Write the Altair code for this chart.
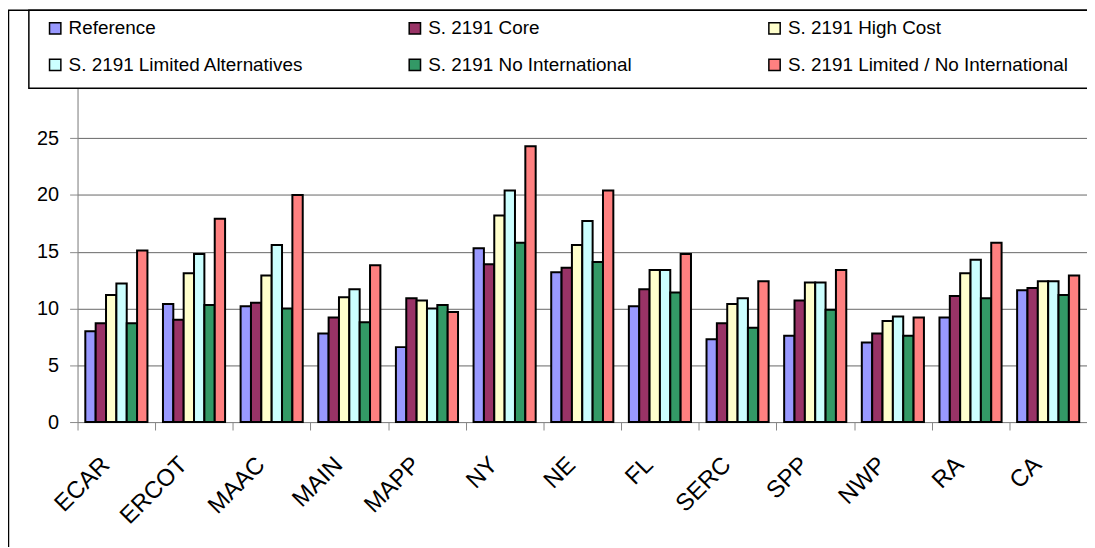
import altair as alt
import pandas as pd

regions = ["ECAR", "ERCOT", "MAAC", "MAIN", "MAPP", "NY", "NE", "FL", "SERC", "SPP", "NWP", "RA", "CA"]
series_names = ["Reference", "S. 2191 Core", "S. 2191 High Cost",
                "S. 2191 Limited Alternatives", "S. 2191 No International",
                "S. 2191 Limited / No International"]

reference = [8.0, 10.4, 10.2, 7.8, 6.6, 15.3, 13.2, 10.2, 7.3, 7.6, 7.0, 9.2, 11.6]
core      = [8.7, 9.0, 10.5, 9.2, 10.9, 13.9, 13.6, 11.7, 8.7, 10.7, 7.8, 11.1, 11.8]
high_cost = [11.2, 13.1, 12.9, 11.0, 10.7, 18.2, 15.6, 13.4, 10.4, 12.3, 8.9, 13.1, 12.4]
lim_alt   = [12.2, 14.8, 15.6, 11.7, 10.0, 20.4, 17.7, 13.4, 10.9, 12.3, 9.3, 14.3, 12.4]
no_intl   = [8.7, 10.3, 10.0, 8.8, 10.3, 15.8, 14.1, 11.4, 8.3, 9.9, 7.6, 10.9, 11.2]
lim_no    = [15.1, 17.9, 20.0, 13.8, 9.7, 24.3, 20.4, 14.8, 12.4, 13.4, 9.2, 15.8, 12.9]

y_ticks = [0, 5, 10, 15, 20, 25]
colors = ["#9999FF", "#993366", "#FFFFCC", "#CCFFFF", "#339966", "#FF8080"]

rows = []
for name, vals in zip(series_names, [reference, core, high_cost, lim_alt, no_intl, lim_no]):
    for r, v in zip(regions, vals):
        rows.append({"region": r, "series": name, "value": v})
df = pd.DataFrame(rows)

W, H = 1016, 336
step = W / len(regions)
FONT = "Liberation Sans"

bars = alt.Chart(df).mark_bar(stroke="black", strokeWidth=2).encode(
    x=alt.X("region:N", sort=regions, title=None,
            scale=alt.Scale(paddingInner=0.2, paddingOuter=0.1),
            axis=alt.Axis(labelAngle=-45, labelAlign="right", labelBaseline="middle",
                          labelFontSize=24, labelPadding=31, labelOffset=step / 2 - 11,
                          tickSize=8, tickOffset=-step / 2, grid=False)),
    xOffset=alt.XOffset("series:N", sort=series_names,
                        scale=alt.Scale(paddingInner=0, paddingOuter=0)),
    y=alt.Y("value:Q", title=None,
            scale=alt.Scale(domain=[0, 29.4], nice=False, zero=True),
            axis=alt.Axis(values=y_ticks, grid=True, gridColor="#666666", gridWidth=1,
                          labelFontSize=20, labelPadding=11, tickSize=8)),
    color=alt.Color("series:N", sort=series_names,
                    scale=alt.Scale(domain=series_names, range=colors),
                    legend=alt.Legend(orient="none", legendX=-32, legendY=-70, columns=3,
                                      direction="horizontal",
                                      title=None, symbolType="square", symbolSize=130,
                                      symbolStrokeColor="black", symbolStrokeWidth=1.5,
                                      labelFontSize=19, labelFont=FONT, labelColor="black",
                                      labelOffset=4, rowPadding=17, columnPadding=56,
                                      gridAlign="all", padding=0, labelLimit=400)),
)

deco = pd.DataFrame({"k": [0]})
legend_box = alt.Chart(deco).mark_rect(fill="white", stroke="black", strokeWidth=1.5).encode(
    x=alt.value(-49), x2=alt.value(1100), y=alt.value(-78.5), y2=alt.value(0))
outer_border = alt.Chart(deco).mark_rect(fillOpacity=0, stroke="black", strokeWidth=1.5).encode(
    x=alt.value(-69.5), x2=alt.value(1100), y=alt.value(-78.5), y2=alt.value(600))

chart = alt.layer(outer_border, legend_box, bars).properties(
    width=W, height=H,
    padding={"left": 70, "top": 79, "right": 0, "bottom": 124},
    autosize=alt.AutoSizeParams(type="none"),
).configure_view(stroke="#808080", strokeWidth=1.5).configure_axis(
    labelFont=FONT, labelColor="black", domainColor="black", tickColor="black",
    domainWidth=1.5, tickWidth=1.5
).configure(background="white")

chart.save("out.html", embed_options={"renderer": "svg", "actions": False})
